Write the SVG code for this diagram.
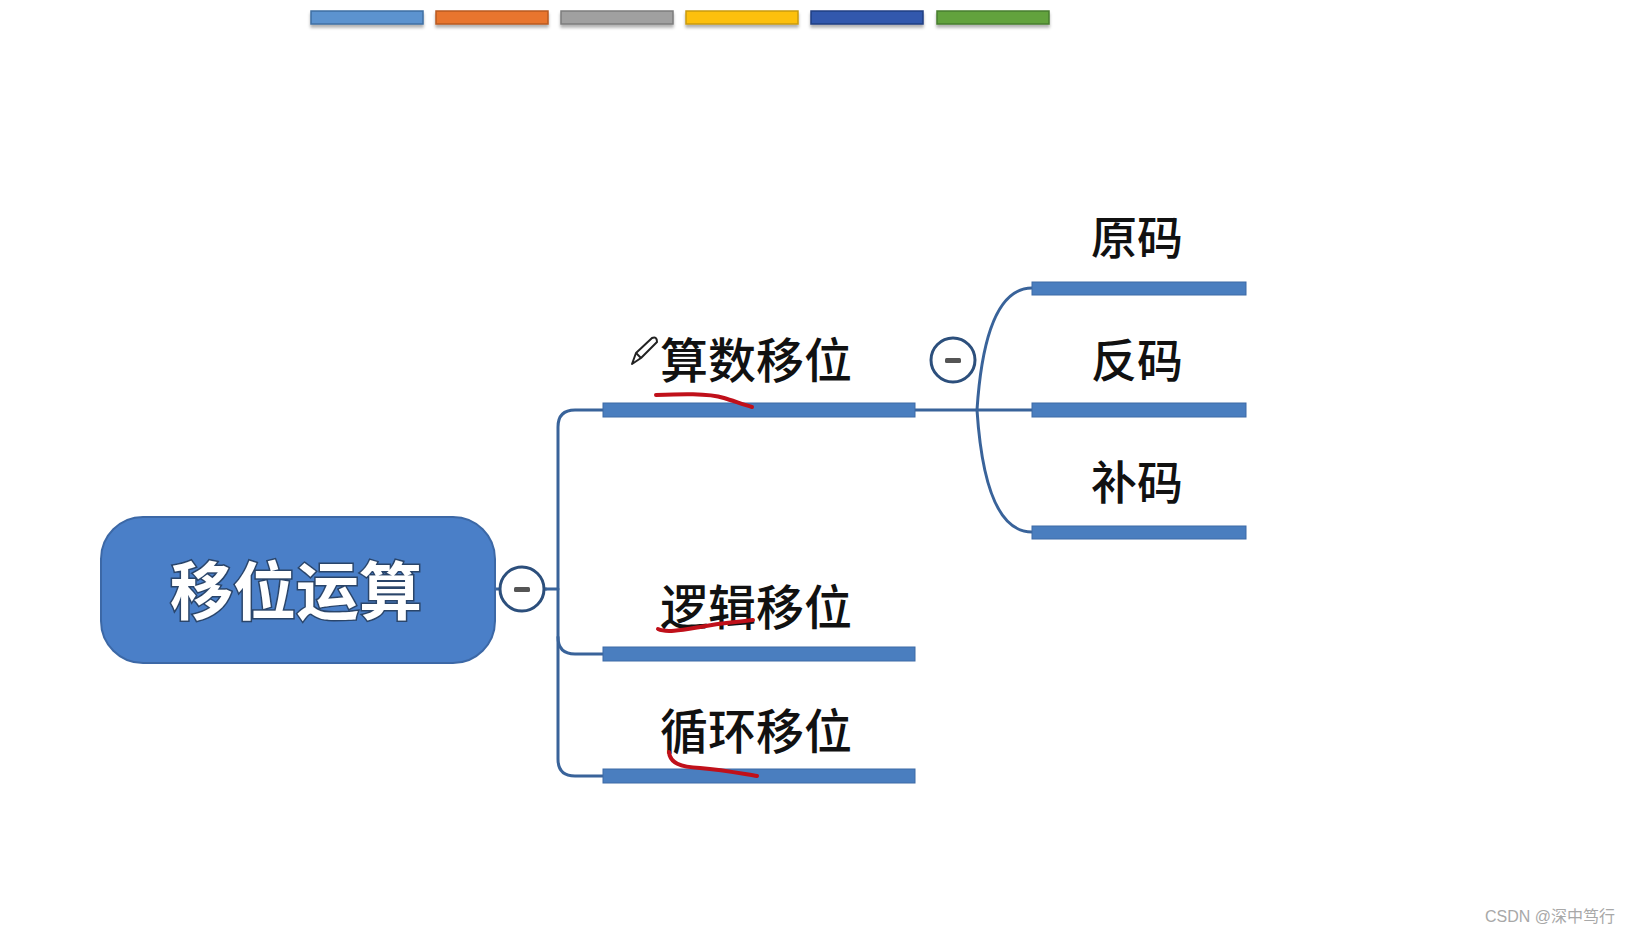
<svg xmlns="http://www.w3.org/2000/svg" width="1630" height="935" viewBox="0 0 1630 935">
<style>
.t{font-family:"Noto Sans CJK SC","Noto Sans",sans-serif;fill:#111;text-anchor:middle;font-weight:500}
.main{font-size:48px}
.sub{font-size:46px}
.bar{fill:#4a7ebf;stroke:#3d6aa6;stroke-width:1}
.conn{fill:none;stroke:#39639a;stroke-width:3;stroke-linecap:round}
.tog{fill:#fff;stroke:#2c4f7c;stroke-width:3}
.minus{fill:#555}
.red{fill:none;stroke:#c0101a;stroke-width:4;stroke-linecap:round;stroke-linejoin:round}
.sw{stroke-width:1.5}
</style>
<defs>
<filter id="sh" x="-10%" y="-50%" width="120%" height="250%">
<feDropShadow dx="0" dy="3" stdDeviation="1.5" flood-color="#000" flood-opacity="0.3"/>
</filter>
</defs>
<rect width="1630" height="935" fill="#fff"/>
<g id="palette" filter="url(#sh)">
<rect class="sw" x="311" y="11" width="112" height="13" fill="#5b93cf" stroke="#3f6fa3"/>
<rect class="sw" x="436" y="11" width="112" height="13" fill="#e8752e" stroke="#b85a20"/>
<rect class="sw" x="561" y="11" width="112" height="13" fill="#a0a0a0" stroke="#7c7c7c"/>
<rect class="sw" x="686" y="11" width="112" height="13" fill="#fdc00e" stroke="#c99a10"/>
<rect class="sw" x="811" y="11" width="112" height="13" fill="#3059ad" stroke="#213f82"/>
<rect class="sw" x="937" y="11" width="112" height="13" fill="#62a23e" stroke="#477d2c"/>
</g>
<g id="connectors">
<path class="conn" d="M495,589 H546"/>
<path class="conn" d="M546,589 H558"/>
<path class="conn" d="M603,410 H575 Q558,410 558,427 V759 Q558,776 575,776 H603"/>
<path class="conn" d="M558,637 Q558,654 575,654 H603"/>
<path class="conn" d="M915,410 H1032"/>
<path class="conn" d="M977,410 Q985,288 1032,288"/>
<path class="conn" d="M977,410 Q985,532 1032,532"/>
</g>
<g id="root">
<rect x="101" y="517" width="394" height="146" rx="42" fill="#4a7fc8" stroke="#3c68a6" stroke-width="2"/>
<text x="296" y="614" style="font-family:'Noto Sans CJK SC','Noto Sans',sans-serif;font-size:63px;font-weight:bold;text-anchor:middle;fill:#fff;stroke:#2a456a;stroke-width:3;paint-order:stroke">移位运算</text>
</g>
<g id="toggle-root">
<circle class="tog" cx="522" cy="589" r="22"/>
<rect class="minus" x="514" y="587" width="16" height="5" rx="1.5"/>
</g>
<g id="n-arith">
<rect class="bar" x="603" y="403" width="312" height="14"/>
<text class="t main" x="756" y="378">算数移位</text>
<g fill="none" stroke="#222" stroke-width="2" stroke-linejoin="round">
<path d="M632,364 L636,353 L652,338 Q657,336 657,342 L641,358 Z"/>
<path d="M636,353 L641,358"/>
</g>
<path class="red" d="M656,395 C680,394 708,393 724,398 C734,401 744,405 752,407"/>
</g>
<g id="toggle-arith">
<circle class="tog" cx="953" cy="360" r="22"/>
<rect class="minus" x="945" y="358" width="16" height="5" rx="1.5"/>
</g>
<g id="n-logic">
<rect class="bar" x="603" y="647" width="312" height="14"/>
<text class="t main" x="756" y="625">逻辑移位</text>
<path class="red" d="M658,629 C666,633 682,630 700,627 C720,623 738,622 753,620"/>
</g>
<g id="n-cyclic">
<rect class="bar" x="603" y="769" width="312" height="14"/>
<text class="t main" x="756" y="749">循环移位</text>
<path class="red" d="M669,752 C670,763 680,767 700,768 C724,770 744,774 757,776"/>
</g>
<g id="n-orig">
<rect class="bar" x="1032" y="282" width="214" height="13"/>
<text class="t sub" x="1137" y="254">原码</text>
</g>
<g id="n-ones">
<rect class="bar" x="1032" y="403" width="214" height="14"/>
<text class="t sub" x="1137" y="377">反码</text>
</g>
<g id="n-twos">
<rect class="bar" x="1032" y="526" width="214" height="13"/>
<text class="t sub" x="1137" y="499">补码</text>
</g>
<text x="1615" y="922" style="font-family:'Liberation Sans','Noto Sans CJK SC',sans-serif;font-size:16px;fill:#a8a8a8;text-anchor:end">CSDN @深中笃行</text>
</svg>
